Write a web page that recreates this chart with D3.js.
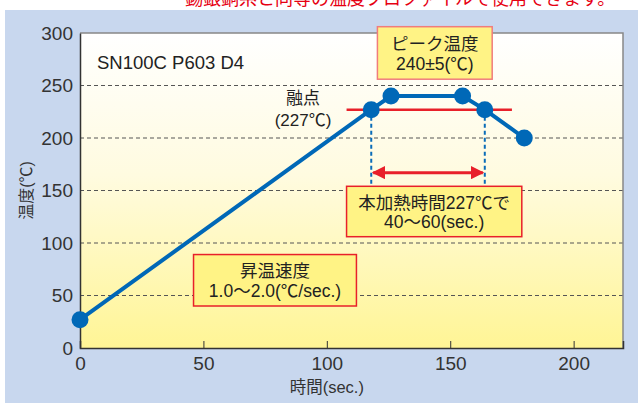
<!DOCTYPE html>
<html>
<head>
<meta charset="utf-8">
<script src="https://cdn.jsdelivr.net/npm/d3@7"></script>
<style>
  html, body { margin: 0; padding: 0; background: #fff; }
  svg { display: block; }
</style>
</head>
<body>
<div id="chart"></div>
<script>
// reflow profile, SN100C P603 D4
const times = [0, 118, 126, 155, 164, 180];
const temps = [27, 227, 240, 240, 227, 200];
const xTicks = [0, 50, 100, 150, 200];
const yTicks = [0, 50, 100, 150, 200, 250, 300];
const gridTicks = [50, 100, 150, 200, 250];
const meltPoint = 227;
const meltRange = [108, 175];
const soakRange = [118, 164];

const width = 638;
const height = 403;
const margin = {top: 33, right: 15, bottom: 55, left: 80};

const mixFont = "'Liberation Sans', 'Noto Sans CJK JP', sans-serif";

const svg = d3.select("#chart").append("svg")
    .attr("width", width)
    .attr("height", height)
    .style("font-family", mixFont);

// headline above, mostly cut off
svg.append("text")
    .attr("x", 185)
    .attr("y", 5)
    .style("font-family", "'Noto Sans CJK JP', sans-serif")
    .style("font-size", "18px")
    .style("fill", "#e60012")
    .text("錫銀銅系と同等の温度プロファイルで使用できます。");

svg.append("rect")
    .attr("x", 5).attr("y", 10)
    .attr("width", width - 5).attr("height", height - 10)
    .style("fill", "#c8d7ee");

const x = d3.scaleLinear().domain([0, 220]).range([margin.left, width - margin.right]);
const y = d3.scaleLinear().domain([0, 300]).range([height - margin.bottom, margin.top]);

const defs = svg.append("defs");
const grad = defs.append("linearGradient")
    .attr("id", "plotBg")
    .attr("x1", 0).attr("y1", 0).attr("x2", 0).attr("y2", 1);
grad.append("stop").attr("offset", "0%").attr("stop-color", "#ffffff");
grad.append("stop").attr("offset", "45%").attr("stop-color", "#fffbe0");
grad.append("stop").attr("offset", "100%").attr("stop-color", "#fff595");

defs.append("marker")
    .attr("id", "arrowHead")
    .attr("viewBox", "0 0 10 10")
    .attr("refX", 9).attr("refY", 5)
    .attr("markerWidth", 4.5).attr("markerHeight", 4.5)
    .attr("markerUnits", "strokeWidth")
    .attr("orient", "auto-start-reverse")
    .append("path")
    .attr("d", "M0,0L10,5L0,10Z")
    .style("fill", "#e8202a");

svg.append("rect")
    .attr("x", x(0)).attr("y", y(300))
    .attr("width", x(220) - x(0)).attr("height", y(0) - y(300))
    .style("fill", "url(#plotBg)");

// dashed grid
svg.selectAll(".grid")
    .data(gridTicks)
    .enter().append("line")
    .attr("class", "grid")
    .attr("x1", x(0)).attr("x2", x(220))
    .attr("y1", d => y(d)).attr("y2", d => y(d))
    .style("stroke", "#555")
    .style("stroke-width", 1)
    .style("stroke-dasharray", "4,3");

// frame: top and right gray, left and bottom dark
svg.append("path")
    .attr("d", "M" + x(0) + "," + y(300) + "H" + x(220) + "V" + y(0))
    .style("fill", "none")
    .style("stroke", "#888")
    .style("stroke-width", 1.5);

const xAxis = svg.append("g")
    .attr("transform", "translate(0," + y(0) + ")")
    .call(d3.axisBottom(x).tickValues(xTicks).tickSize(-7).tickPadding(8));
const yAxis = svg.append("g")
    .attr("transform", "translate(" + x(0) + ",0)")
    .call(d3.axisLeft(y).tickValues(yTicks).tickSize(0).tickPadding(7));

[xAxis, yAxis].forEach(function (g) {
    g.select(".domain").style("stroke", "#333").style("stroke-width", 1.5);
    g.selectAll(".tick line").style("stroke", "#333");
    g.selectAll(".tick text")
        .style("font-family", "'Liberation Sans', sans-serif")
        .style("font-size", "19px")
        .style("fill", "#333");
});
xAxis.selectAll(".tick").filter(d => d === 0).select("line").remove();
xAxis.selectAll(".tick text").attr("dy", "0.72em");
yAxis.selectAll(".tick text").attr("dy", "0.34em");

svg.append("text")
    .attr("transform", "translate(26," + y(150) + ") rotate(-90)")
    .attr("text-anchor", "middle")
    .attr("dy", "0.35em")
    .style("font-size", "16px")
    .style("fill", "#333")
    .text("温度(℃)");

svg.append("text")
    .attr("x", x(100))
    .attr("y", 387)
    .attr("text-anchor", "middle")
    .attr("dy", "0.35em")
    .style("font-size", "16.5px")
    .style("fill", "#333")
    .text("時間(sec.)");

svg.append("text")
    .attr("x", 97)
    .attr("y", y(272))
    .attr("dy", "0.36em")
    .style("font-size", "18.5px")
    .style("fill", "#222")
    .text("SN100C P603 D4");

// melting point line
svg.append("line")
    .attr("x1", x(meltRange[0])).attr("x2", x(meltRange[1]))
    .attr("y1", y(meltPoint)).attr("y2", y(meltPoint))
    .style("stroke", "#e8202a")
    .style("stroke-width", 2.5);

// dashed verticals down to the soak box
svg.selectAll(".drop")
    .data(soakRange)
    .enter().append("line")
    .attr("class", "drop")
    .attr("x1", d => x(d)).attr("x2", d => x(d))
    .attr("y1", y(meltPoint)).attr("y2", y(154))
    .style("stroke", "#0a6cb8")
    .style("stroke-width", 2)
    .style("stroke-dasharray", "4,3");

svg.append("line")
    .attr("x1", x(soakRange[0]) + 2).attr("x2", x(soakRange[1]) - 2)
    .attr("y1", y(167)).attr("y2", y(167))
    .style("stroke", "#e8202a")
    .style("stroke-width", 3)
    .attr("marker-start", "url(#arrowHead)")
    .attr("marker-end", "url(#arrowHead)");

// profile line
const line = d3.line()
    .x((d, i) => x(times[i]))
    .y(d => y(d));

svg.append("path")
    .datum(temps)
    .attr("d", line)
    .style("fill", "none")
    .style("stroke", "#0068b7")
    .style("stroke-width", 4)
    .style("stroke-linejoin", "round");

svg.selectAll(".dot")
    .data(temps)
    .enter().append("circle")
    .attr("class", "dot")
    .attr("cx", (d, i) => x(times[i]))
    .attr("cy", d => y(d))
    .attr("r", 8.5)
    .style("fill", "#0068b7");

// melting point label
const melt = svg.append("text")
    .attr("text-anchor", "middle")
    .style("font-size", "17px")
    .style("fill", "#222");
melt.append("tspan").attr("x", 303).attr("y", 104).text("融点");
melt.append("tspan").attr("x", 303).attr("y", 126).text("(227℃)");

// callout boxes
function callout(x0, x1, y0, y1, lines, strokeColor) {
    const g = svg.append("g");
    g.append("rect")
        .attr("x", x(x0)).attr("y", y(y0))
        .attr("width", x(x1) - x(x0)).attr("height", y(y1) - y(y0))
        .style("fill", "#fff385")
        .style("stroke", strokeColor)
        .style("stroke-width", 1.5);
    const cx = (x(x0) + x(x1)) / 2;
    const h = y(y1) - y(y0);
    lines.forEach(function (t, i) {
        g.append("text")
            .attr("x", cx)
            .attr("y", y(y0) + h * (i === 0 ? 0.32 : 0.71))
            .attr("dy", "0.36em")
            .attr("text-anchor", "middle")
            .style("font-size", "17.5px")
            .style("fill", "#222")
            .text(t);
    });
}

callout(120.5, 167, 306, 256, ["ピーク温度", "240±5(℃)"], "#f07c7c");
callout(108, 179, 154, 106, ["本加熱時間227℃で", "40〜60(sec.)"], "#e8202a");
callout(46, 112, 89, 40, ["昇温速度", "1.0〜2.0(℃/sec.)"], "#e8202a");
</script>
</body>
</html>
